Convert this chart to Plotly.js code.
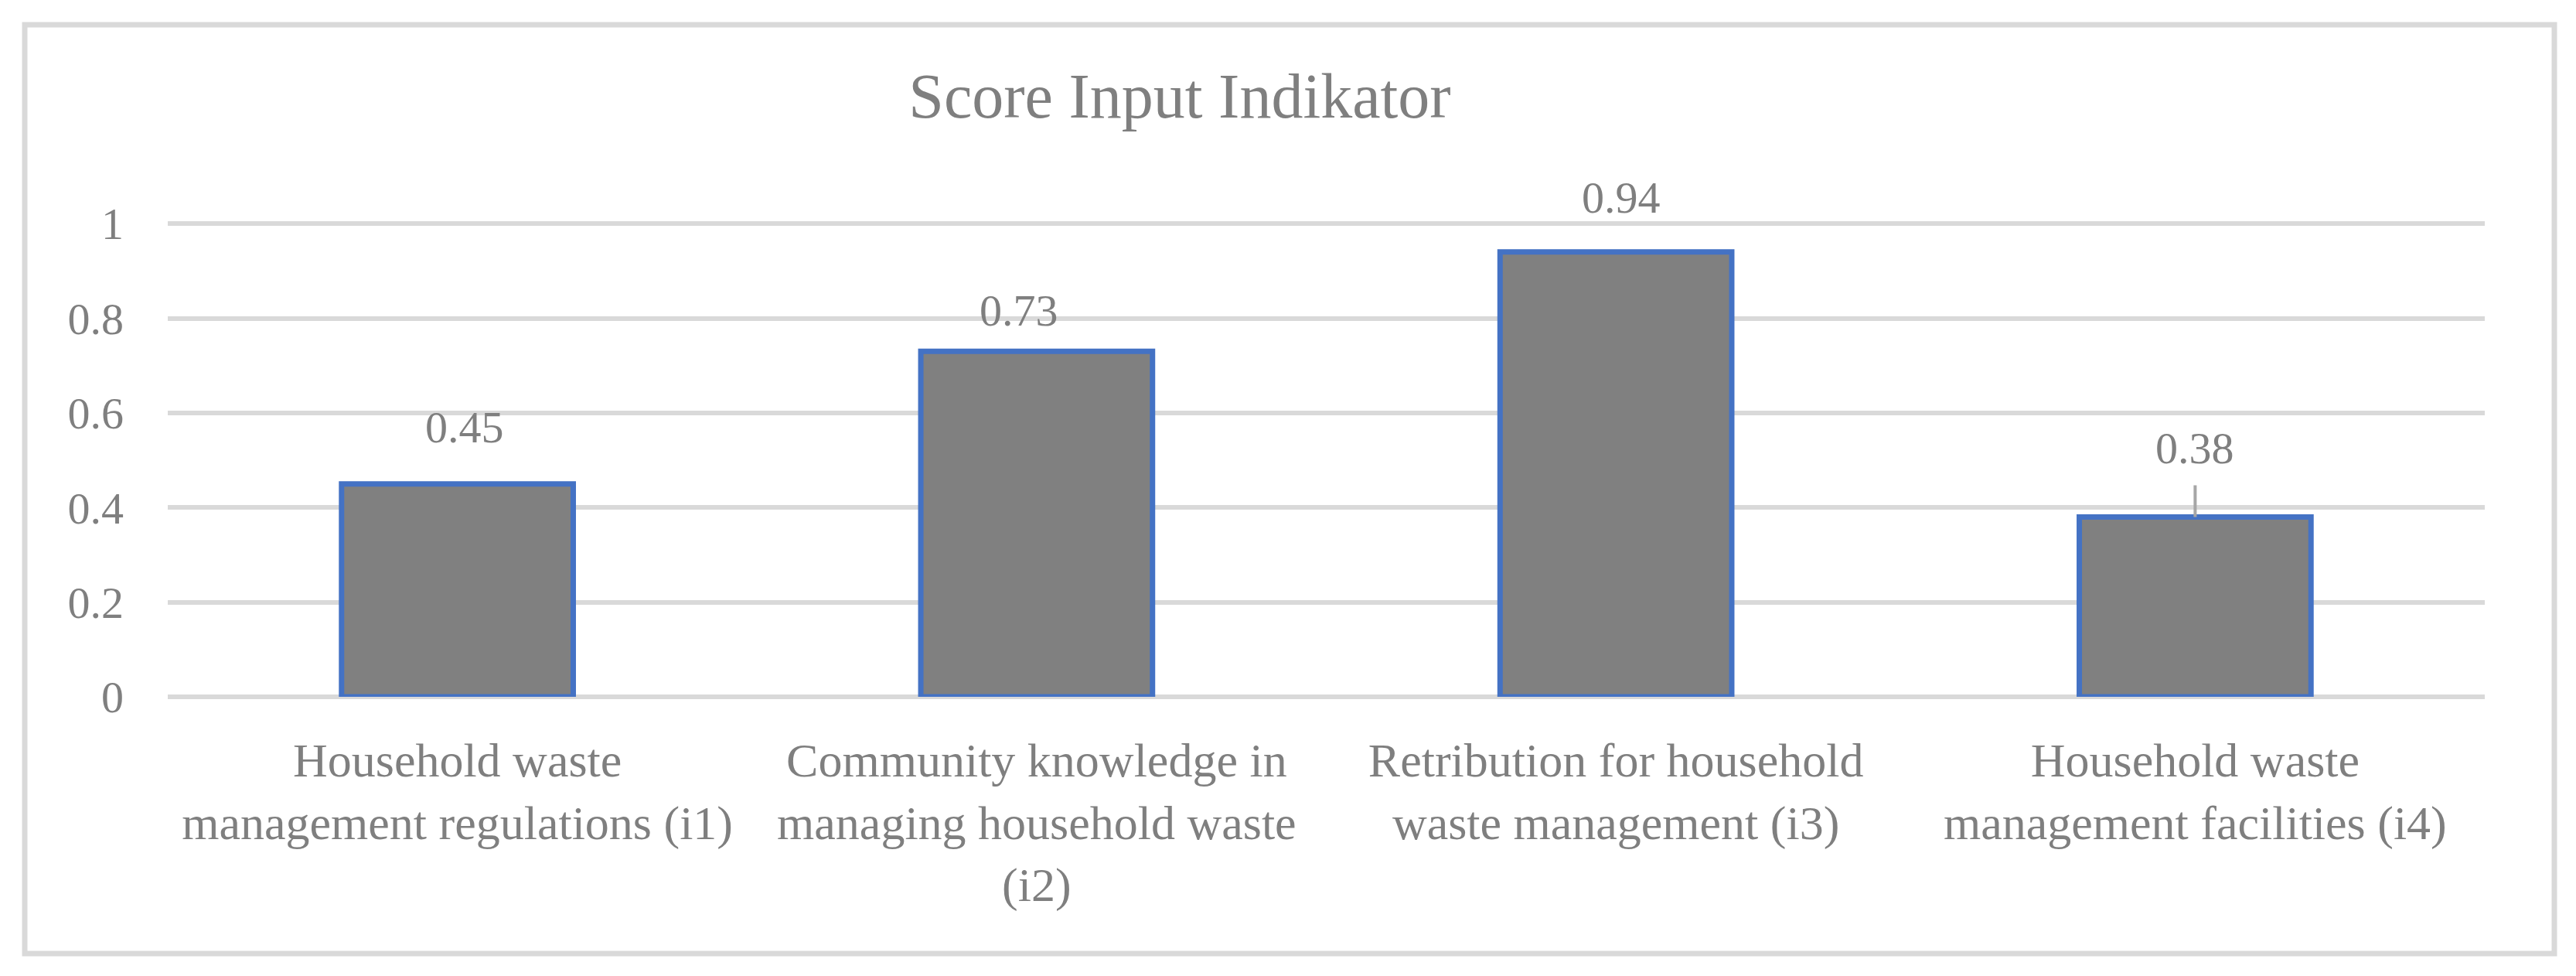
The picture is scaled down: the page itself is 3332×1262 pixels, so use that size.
<!DOCTYPE html>
<html>
<head>
<meta charset="utf-8">
<script src="https://cdn.plot.ly/plotly-3.0.1.min.js"></script>
<style>
  html, body { margin: 0; padding: 0; background: #fff; }
  #chart { width: 3332px; height: 1262px; }
</style>
</head>
<body>
<div id="chart"></div>
<script>
// chart data
const categories = [
    'Household waste<br>management regulations (i1)',
    'Community knowledge in<br>managing household waste<br>(i2)',
    'Retribution for household<br>waste management (i3)',
    'Household waste<br>management facilities (i4)'
];
const scores = [0.45, 0.73, 0.94, 0.38];
const scoreLabels = ['0.45', '0.73', '0.94', '0.38'];
const yTicks = [0, 0.2, 0.4, 0.6, 0.8, 1];

// page geometry (px); y range goes a hair past 1 so the top gridline is drawn
const W = 3332, H = 1262;
const yMax = 1.01;
const plotL = 217, plotR = 3214, plotB = 901;
const plotT = Math.round(plotB - 612 * yMax);
const font = 'Liberation Serif, Times New Roman, serif';
const grey = '#7f7f7f';

// data label offsets as dragged in the original chart
const labelDy = [73, 53, 70, 89];
const labelDx = [9, -23, 7, 0];

let trace = {
    x: categories,
    y: scores,
    type: 'bar',
    marker: { color: '#808080', line: { color: '#4472C4', width: 7 } },
    hoverinfo: 'skip'
};

let annotations = scores.map((v, i) => {
    let a = {
        x: categories[i],
        y: v,
        xref: 'x',
        yref: 'y',
        text: scoreLabels[i],
        font: { family: font, size: 58, color: grey },
        showarrow: false,
        xanchor: 'center',
        yanchor: 'middle',
        xshift: labelDx[i],
        yshift: labelDy[i]
    };
    if (i === 3) {
        // leader line for the last label
        a.showarrow = true;
        a.arrowhead = 0;
        a.arrowwidth = 4;
        a.arrowcolor = '#a6a6a6';
        a.ax = 0;
        a.ay = -labelDy[i];
        a.startstandoff = 14;
        delete a.xshift;
        delete a.yshift;
        delete a.xanchor;
        delete a.yanchor;
    }
    return a;
});

// outer frame, paper coords from pixels
const pw = plotR - plotL, ph = plotB - plotT;
const px = v => (v - plotL) / pw;
const py = v => (plotB - v) / ph;

let layout = {
    width: W,
    height: H,
    paper_bgcolor: '#ffffff',
    plot_bgcolor: '#ffffff',
    showlegend: false,
    margin: { l: plotL, r: W - plotR, t: plotT, b: H - plotB, pad: 0 },
    title: {
        text: 'Score Input Indikator',
        font: { family: font, size: 82, color: grey },
        xref: 'container',
        yref: 'container',
        x: 1526 / W,
        y: 1 - 123 / H,
        xanchor: 'center',
        yanchor: 'middle'
    },
    bargap: 0.6,
    xaxis: {
        type: 'category',
        showgrid: false,
        showline: false,
        ticks: '',
        ticklabelstandoff: 40,
        tickfont: { family: font, size: 62, color: grey },
        tickangle: 0,
        fixedrange: true
    },
    yaxis: {
        range: [0, yMax],
        tickvals: yTicks,
        ticktext: yTicks.map(String),
        showgrid: true,
        gridcolor: '#d9d9d9',
        gridwidth: 6,
        zeroline: true,
        zerolinecolor: '#d9d9d9',
        zerolinewidth: 6,
        showline: false,
        ticks: '',
        ticklabelstandoff: 56,
        tickfont: { family: font, size: 58, color: grey },
        fixedrange: true
    },
    annotations: annotations,
    shapes: [{
        type: 'rect',
        xref: 'paper',
        yref: 'paper',
        x0: px(32), x1: px(3304),
        y0: py(1233), y1: py(32),
        line: { color: '#d9d9d9', width: 7 },
        layer: 'below'
    }]
};

Plotly.newPlot('chart', [trace], layout, { staticPlot: true, displayModeBar: false });
</script>
</body>
</html>
